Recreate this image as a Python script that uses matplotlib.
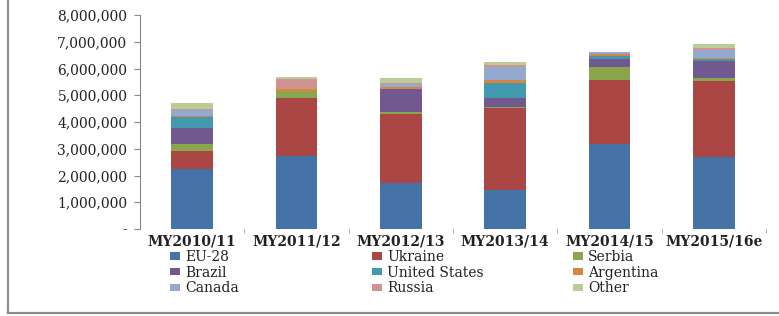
import numpy as np
import matplotlib.pyplot as plt
from matplotlib.lines import Line2D
from matplotlib.patches import Patch
from matplotlib.ticker import FuncFormatter

# marketing years and supplier shares (metric tons)
years = ["MY2010/11", "MY2011/12", "MY2012/13", "MY2013/14", "MY2014/15", "MY2015/16e"]
eu28 = [2250000, 2740000, 1730000, 1450000, 3180000, 2690000]
ukraine = [680000, 2160000, 2580000, 3060000, 2390000, 2830000]
serbia = [240000, 250000, 60000, 50000, 490000, 140000]
brazil = [620000, 0, 860000, 340000, 280000, 620000]
united_states = [390000, 0, 20000, 570000, 140000, 60000]
argentina = [60000, 70000, 50000, 100000, 50000, 50000]
canada = [220000, 0, 110000, 490000, 70000, 290000]
russia = [10000, 390000, 50000, 80000, 20000, 90000]
other = [230000, 60000, 180000, 100000, 10000, 150000]

series = [
    ("EU-28", eu28, "#4572A7"),
    ("Ukraine", ukraine, "#AA4643"),
    ("Serbia", serbia, "#89A54E"),
    ("Brazil", brazil, "#71588F"),
    ("United States", united_states, "#4198AF"),
    ("Argentina", argentina, "#DB843D"),
    ("Canada", canada, "#93A9CF"),
    ("Russia", russia, "#D19392"),
    ("Other", other, "#B9CD96"),
]

plt.rcParams['font.family'] = ['DejaVu Serif']

fig = plt.figure(figsize=(7.79, 3.16), dpi=100)
ax = fig.add_axes([140 / 779, 1 - 229 / 316, 626 / 779, 214 / 316])

x = np.arange(len(years))
bottom = np.zeros(len(years))
handles = []
for name, vals, col in series:
    vals = np.array(vals, dtype=float)
    ax.bar(x, vals, width=0.40, bottom=bottom, color=col, linewidth=0)
    bottom += vals
    handles.append(Patch(facecolor=col, label=name))

ax.set_xlim(-0.5, len(years) - 0.5)
ax.set_ylim(0, 8000000)
ax.set_yticks(np.arange(0, 8000001, 1000000))
ax.yaxis.set_major_formatter(FuncFormatter(lambda v, p: "-" if v == 0 else f"{int(v):,}"))
ax.set_xticks(x)
ax.set_xticklabels(years, fontsize=10, fontweight="bold", color="#222222")
ax.set_xticks(np.arange(0.5, len(years), 1.0), minor=True)
ax.tick_params(axis="x", which="major", length=0, pad=4)
ax.tick_params(axis="x", which="minor", length=3, color="#999999", direction="out")
ax.tick_params(axis="y", length=4, color="#888888", labelsize=10, labelcolor="#222222", pad=5)

for s in ["top", "right", "bottom"]:
    ax.spines[s].set_visible(False)
ax.spines["left"].set_color("#888888")

# legend: three columns laid out like the original, one legend per column
cols = [[0, 3, 6], [1, 4, 7], [2, 5, 8]]
col_x = [170, 372, 573]
for cx, idx in zip(col_x, cols):
    leg = fig.legend(handles=[handles[i] for i in idx], loc="upper left",
                     bbox_to_anchor=(cx / 779, 1 - 250 / 316), frameon=False,
                     borderpad=0, borderaxespad=0, handlelength=0.7, handleheight=0.45,
                     handletextpad=0.4, labelspacing=0.12,
                     prop={"family": "DejaVu Serif", "size": 10})
    for t in leg.get_texts():
        t.set_color("#222222")

# chart border visible on left and bottom
fig.add_artist(Line2D([8 / 779, 8 / 779], [1.0, 1 - 313 / 316], transform=fig.transFigure,
                      color="#8c8c8c", lw=1.6))
fig.add_artist(Line2D([8 / 779, 1.0], [1 - 313 / 316, 1 - 313 / 316], transform=fig.transFigure,
                      color="#8c8c8c", lw=1.6))

fig.savefig("out.png", dpi=100)
